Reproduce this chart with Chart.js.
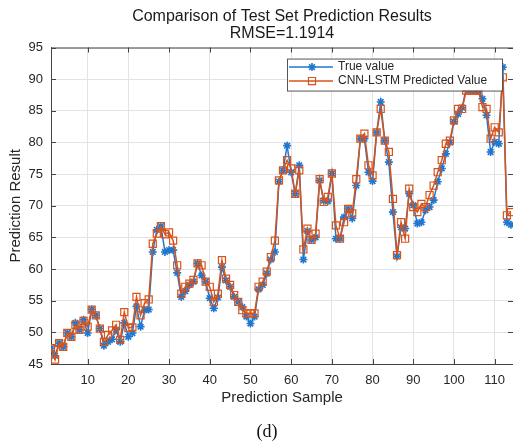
<!DOCTYPE html>
<html>
<head>
<meta charset="utf-8">
<script src="https://cdn.jsdelivr.net/npm/chart.js@4.4.0/dist/chart.umd.min.js"></script>
<style>
  body { margin: 0; background: #fff; }
  canvas { display: block; }
</style>
</head>
<body>
<canvas id="lineChart" width="513" height="448"></canvas>
<script>
// values, sample 1..114
const trueValue = [
  47.5, 46.3, 48.3, 47.7, 49.9, 49.3, 51.5, 50.4, 52.0, 49.9,
  53.6, 52.7, 50.6, 47.9, 48.5, 48.9, 50.4, 48.5, 51.5, 49.3,
  49.9, 54.1, 50.9, 53.5, 53.6, 62.7, 66.2, 66.8, 62.7, 63.0,
  63.0, 59.4, 55.6, 56.5, 57.5, 58.0, 60.9, 59.0, 58.0, 55.4,
  53.8, 55.5, 60.3, 58.2, 57.2, 55.6, 54.8, 54.0, 52.5, 51.4,
  52.5, 56.8, 57.5, 59.3, 61.5, 62.7, 73.8, 75.6, 79.5, 75.3,
  71.9, 76.4, 61.5, 66.0, 64.6, 65.0, 74.0, 70.8, 70.7, 75.1,
  64.8, 64.8, 68.2, 69.5, 68.0, 73.2, 80.6, 80.6, 75.3, 73.9,
  81.6, 86.4, 80.3, 76.9, 69.0, 62.0, 66.6, 66.4, 71.9, 70.1,
  67.2, 67.4, 69.3, 69.8, 70.9, 73.8, 75.9, 78.2, 80.0, 83.3,
  84.5, 85.5, 88.5, 88.2, 88.2, 88.2, 86.9, 84.3, 78.5, 80.1,
  79.8, 91.9, 67.4, 67.0
];
const predValue = [
  47.5, 45.7, 48.3, 47.7, 49.9, 49.3, 51.2, 50.4, 51.8, 50.9,
  53.6, 52.7, 50.6, 48.5, 49.6, 50.3, 51.2, 48.8, 53.2, 50.7,
  50.8, 55.6, 52.7, 54.6, 55.2, 64.0, 65.6, 66.8, 65.5, 65.8,
  64.5, 60.6, 56.1, 57.2, 57.7, 58.3, 60.9, 60.6, 58.0, 57.2,
  54.8, 56.1, 61.4, 58.5, 57.5, 55.9, 54.8, 53.5, 53.0, 53.0,
  53.0, 57.2, 58.0, 59.6, 61.9, 64.5, 74.0, 75.6, 77.2, 75.9,
  71.9, 75.6, 63.1, 66.4, 64.6, 65.6, 74.2, 70.6, 71.4, 75.1,
  66.9, 64.8, 67.4, 69.5, 68.8, 74.2, 80.6, 81.4, 76.4, 74.8,
  81.6, 85.3, 80.3, 78.5, 71.1, 62.2, 67.4, 64.8, 72.7, 69.8,
  69.0, 70.3, 69.8, 71.7, 73.2, 75.3, 77.2, 79.8, 80.3, 83.5,
  85.3, 85.3, 88.2, 88.2, 88.2, 88.2, 85.6, 85.3, 80.6, 82.4,
  81.6, 90.3, 68.5, 69.0
];
const xTicks = [10, 20, 30, 40, 50, 60, 70, 80, 90, 100, 110];
const yTicks = [45, 50, 55, 60, 65, 70, 75, 80, 85, 90, 95];

const font = "'Liberation Sans', Arial, sans-serif";
const axisColor = '#444';
const textColor = '#262626';

// axes box with inward tick marks, like matlab
const boxPlugin = {
  id: 'box',
  beforeDatasetsDraw(chart) {
    const { ctx, chartArea: a, scales } = chart;
    ctx.save();
    ctx.strokeStyle = axisColor;
    ctx.lineWidth = 1;
    ctx.strokeRect(a.left + 0.5, a.top + 0.5, a.right - a.left, a.bottom - a.top);
    ctx.beginPath();
    xTicks.forEach(v => {
      const px = Math.round(scales.x.getPixelForValue(v)) + 0.5;
      ctx.moveTo(px, a.bottom); ctx.lineTo(px, a.bottom - 5);
      ctx.moveTo(px, a.top); ctx.lineTo(px, a.top + 5);
    });
    yTicks.forEach(v => {
      const py = Math.round(scales.y.getPixelForValue(v)) + 0.5;
      ctx.moveTo(a.left, py); ctx.lineTo(a.left + 5, py);
      ctx.moveTo(a.right, py); ctx.lineTo(a.right - 5, py);
    });
    ctx.stroke();
    ctx.restore();
  }
};

// boxed legend inside the plot, top right
const legendBox = {
  id: 'legendBox',
  afterDraw(chart) {
    const { ctx, chartArea: a } = chart;
    const w = 215, h = 32;
    const left = a.right - 226, top = a.top + 11;
    ctx.save();
    ctx.fillStyle = '#fff';
    ctx.fillRect(left, top, w, h);
    ctx.strokeStyle = '#555';
    ctx.lineWidth = 1;
    ctx.strokeRect(left + 0.5, top + 0.5, w, h);
    ctx.font = '12px ' + font;
    ctx.textBaseline = 'middle';
    chart.data.datasets.forEach((ds, i) => {
      const y = top + 8.5 + i * 14;
      ctx.strokeStyle = ds.borderColor;
      ctx.lineWidth = 1.5;
      ctx.beginPath();
      ctx.moveTo(left + 2, y); ctx.lineTo(left + 46, y);
      ctx.stroke();
      ctx.fillStyle = ds.pointBackgroundColor;
      ctx.lineWidth = ds.pointBorderWidth;
      Chart.helpers.drawPoint(ctx, { pointStyle: ds.pointStyle, radius: ds.pointRadius, borderWidth: ds.pointBorderWidth, rotation: 0 }, left + 25, y);
      ctx.fillStyle = textColor;
      ctx.fillText(ds.label, left + 51, y);
    });
    ctx.restore();
  }
};

// figure caption under the axes
const caption = {
  id: 'caption',
  afterDraw(chart) {
    const ctx = chart.ctx;
    ctx.save();
    ctx.font = "18px 'Liberation Serif', 'Times New Roman', serif";
    ctx.fillStyle = '#111';
    ctx.textAlign = 'center';
    ctx.textBaseline = 'middle';
    ctx.fillText('(d)', 267, 432);
    ctx.restore();
  }
};

const ctx = document.getElementById('lineChart').getContext('2d');
new Chart(ctx, {
  type: 'line',
  data: {
    datasets: [{
      label: 'True value',
      data: trueValue.map((v, i) => ({ x: i + 1, y: v })),
      borderColor: '#1f77d0',
      backgroundColor: '#1f77d0',
      borderWidth: 1.5,
      pointStyle: 'star',
      pointRadius: 4,
      pointBorderWidth: 1.6,
      pointBorderColor: '#1f77d0',
      pointBackgroundColor: '#1f77d0',
      order: 1
    }, {
      label: 'CNN-LSTM Predicted Value',
      data: predValue.map((v, i) => ({ x: i + 1, y: v })),
      borderColor: '#D95319',
      backgroundColor: '#D95319',
      borderWidth: 1.5,
      pointStyle: 'rect',
      pointRadius: 5,
      pointBorderWidth: 1.2,
      pointBorderColor: '#D95319',
      pointBackgroundColor: 'rgba(0,0,0,0)',
      order: 0
    }]
  },
  options: {
    responsive: false,
    animation: false,
    layout: { autoPadding: false, padding: { left: 4, right: 0, top: 0, bottom: 41 } },
    plugins: {
      legend: { display: false },
      tooltip: { enabled: false },
      title: {
        display: true,
        fullSize: false,
        text: ['Comparison of Test Set Prediction Results', 'RMSE=1.1914'],
        color: '#1a1a1a',
        font: { family: font, size: 16, weight: 'normal', lineHeight: 1.08 },
        padding: { top: 8, bottom: 5 }
      }
    },
    scales: {
      x: {
        type: 'linear',
        min: 1,
        max: 114.5,
        afterBuildTicks: scale => { scale.ticks = xTicks.map(v => ({ value: v })); },
        afterFit: scale => { scale.height = 43; scale.paddingLeft = 0; scale.paddingRight = 0; },
        ticks: { color: textColor, font: { family: font, size: 13 }, padding: 9, maxRotation: 0, autoSkip: false },
        grid: { color: '#e3e3e3', drawTicks: false },
        border: { color: axisColor },
        title: { display: true, text: 'Prediction Sample', color: textColor, font: { family: font, size: 15 }, padding: { top: 1, bottom: 0 } }
      },
      y: {
        min: 45,
        max: 95,
        afterBuildTicks: scale => { scale.ticks = yTicks.map(v => ({ value: v })); },
        afterFit: scale => { scale.width = 47; scale.paddingTop = 0; scale.paddingBottom = 0; },
        ticks: { color: textColor, font: { family: font, size: 13 }, padding: 8 },
        grid: { color: '#e3e3e3', drawTicks: false },
        border: { color: axisColor },
        title: { display: true, text: 'Prediction Result', color: textColor, font: { family: font, size: 15 }, padding: { top: 3, bottom: 4 } }
      }
    }
  },
  plugins: [boxPlugin, legendBox, caption]
});
</script>
</body>
</html>
